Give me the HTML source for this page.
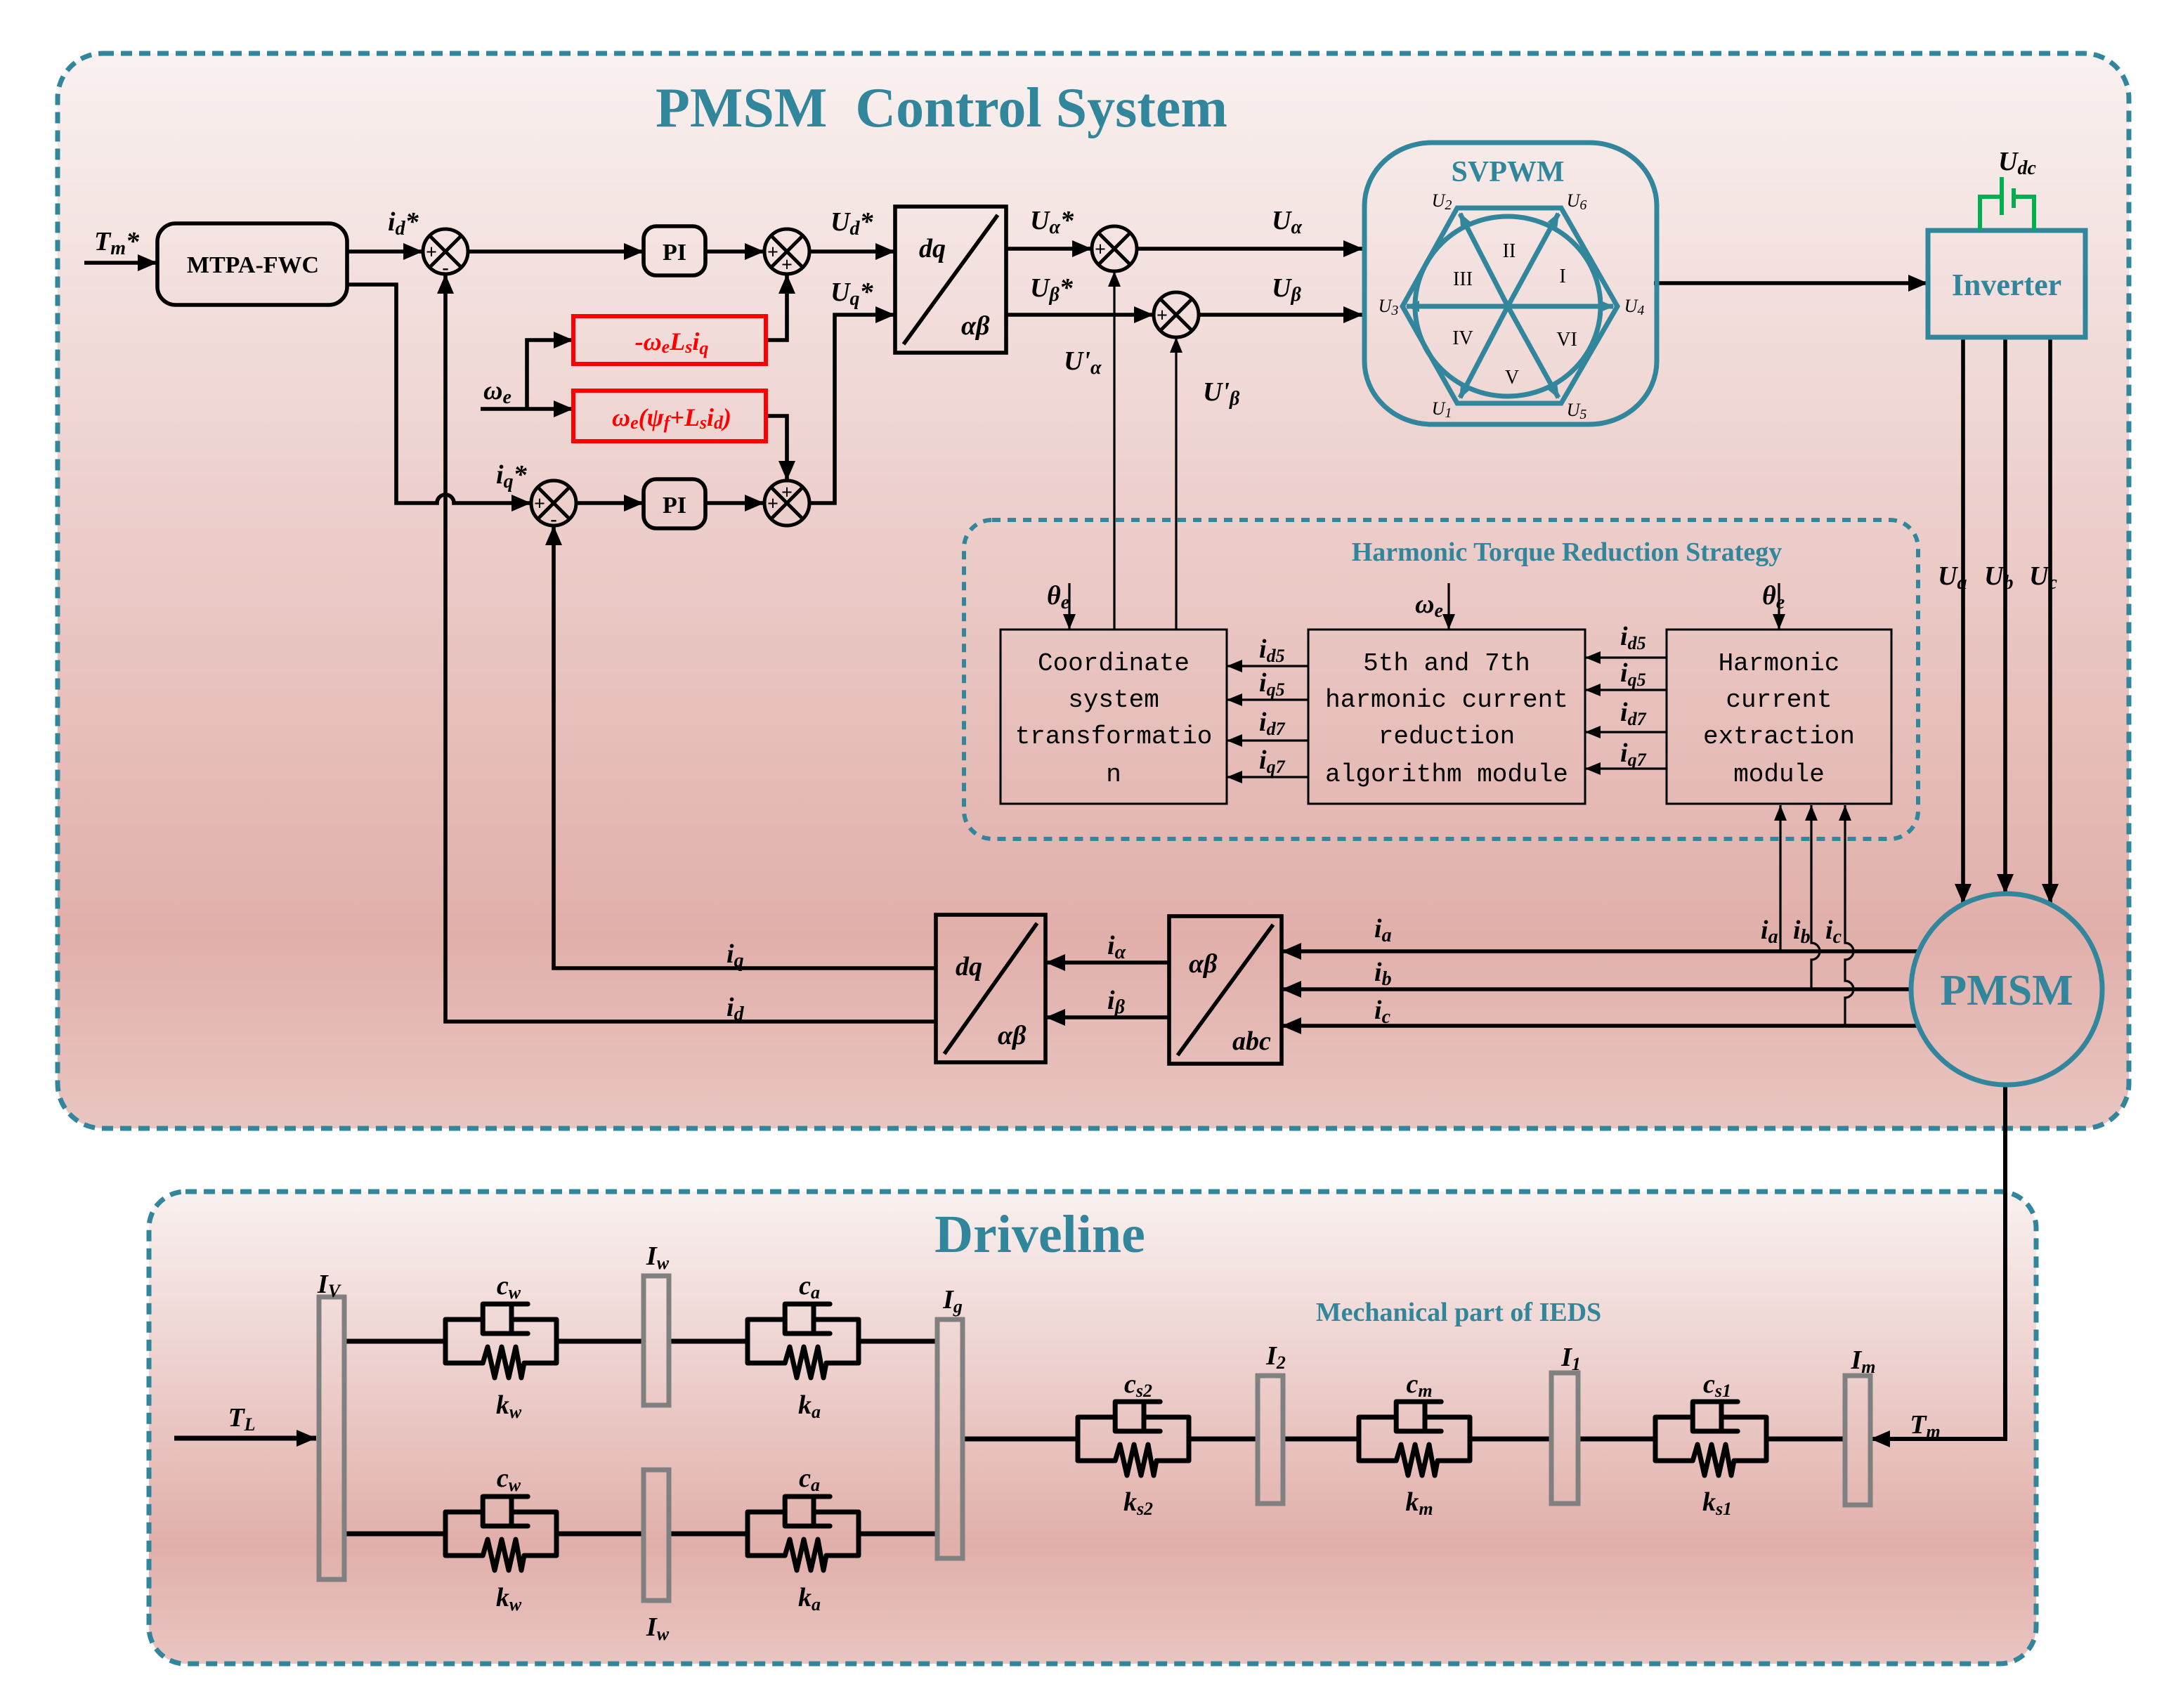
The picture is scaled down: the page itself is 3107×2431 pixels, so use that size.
<!DOCTYPE html>
<html><head><meta charset="utf-8"><style>
html,body{margin:0;padding:0;background:#fff;}
svg{display:block;}
text{font-family:"Liberation Serif",serif;}
.b{font-weight:bold;}
.v{font-weight:bold;font-style:italic;font-size:19px;}
.t{fill:#31869b;font-weight:bold;}
text.m{font-family:"Liberation Mono",monospace;font-size:18px;}
.sv{font-size:14px;}
.ul{font-style:italic;font-size:13px;}
</style></head><body>
<svg width="3107" height="2431" viewBox="0 0 1553.5 1215.5" xmlns="http://www.w3.org/2000/svg">
<defs>
<linearGradient id="g1" x1="0" y1="0" x2="0" y2="1">
<stop offset="0" stop-color="#f9f1f0"/><stop offset="0.82" stop-color="#e1afaa"/><stop offset="1" stop-color="#e9c5c1"/>
</linearGradient>
<linearGradient id="g2" x1="0" y1="0" x2="0" y2="1">
<stop offset="0" stop-color="#f9f1f0"/><stop offset="0.75" stop-color="#e1afaa"/><stop offset="1" stop-color="#e9c5c1"/>
</linearGradient>
<marker id="a" markerUnits="userSpaceOnUse" markerWidth="14" markerHeight="12" refX="14" refY="6" orient="auto"><path d="M0,0 L14,6 L0,12 z" fill="#000"/></marker>
<marker id="as" markerUnits="userSpaceOnUse" markerWidth="11" markerHeight="9" refX="11" refY="4.5" orient="auto"><path d="M0,0 L11,4.5 L0,9 z" fill="#000"/></marker>
<marker id="at" markerUnits="userSpaceOnUse" markerWidth="10" markerHeight="8" refX="9" refY="4" orient="auto"><path d="M0,0 L10,4 L0,8 z" fill="#31869b"/></marker>
<g id="sd" fill="none" stroke="#000" stroke-width="3.5" stroke-linecap="round" stroke-linejoin="round">
<path d="M26.6,-15.5 H0 V15.5 H26.6 L30,4 L35,26 L40,4 L45,26 L50,4 L54,26 L56,15.5 H79 V-15.5 H47"/>
<path d="M58.6,-26.5 H26.6 V-5.5 H58.6"/>
<path d="M47,-26.5 V-5.5"/>
</g>
<g id="sum" fill="none" stroke="#000" stroke-width="2.5">
<circle cx="0" cy="0" r="16"/><path d="M-11.3,-11.3 L11.3,11.3 M11.3,-11.3 L-11.3,11.3"/>
</g>
</defs>

<rect x="41" y="38" width="1474" height="765" rx="32" fill="url(#g1)" stroke="#31869b" stroke-width="3.5" stroke-dasharray="8 5"/>
<text x="670" y="90" text-anchor="middle" class="t" font-size="40" xml:space="preserve">PMSM  Control System</text>

<rect x="106" y="848" width="1343" height="336" rx="26" fill="url(#g2)" stroke="#31869b" stroke-width="3.5" stroke-dasharray="8 5"/>
<text x="740" y="891" text-anchor="middle" class="t" font-size="38">Driveline</text>
<text x="1038" y="940" text-anchor="middle" class="t" font-size="19">Mechanical part of IEDS</text>

<g stroke="#000" stroke-width="2.8" fill="none">
<line x1="60" y1="187" x2="112" y2="187" marker-end="url(#a)"/>
<rect x="112" y="159" width="135" height="58" rx="13"/>
<line x1="247" y1="179" x2="301" y2="179" marker-end="url(#a)"/>
<path d="M247,202.5 H282 V358 H311 a6,6 0 0 1 12,0 H378" marker-end="url(#a)"/>
<line x1="333" y1="179" x2="458" y2="179" marker-end="url(#a)"/>
<rect x="458" y="161" width="44" height="35" rx="9"/>
<line x1="502" y1="179" x2="544" y2="179" marker-end="url(#a)"/>
<line x1="576" y1="179" x2="637" y2="179" marker-end="url(#a)"/>
<rect x="637" y="147" width="79" height="104"/>
<line x1="643" y1="245" x2="710" y2="153"/>
<line x1="342" y1="291" x2="408" y2="291" marker-end="url(#a)"/>
<path d="M375,291 V242 H408" marker-end="url(#a)"/>
<path d="M545,242 H560 V195" marker-end="url(#a)"/>
<path d="M545,296 H560 V342" marker-end="url(#a)"/>
<line x1="410" y1="358" x2="458" y2="358" marker-end="url(#a)"/>
<rect x="458" y="341" width="44" height="35" rx="9"/>
<line x1="502" y1="358" x2="544" y2="358" marker-end="url(#a)"/>
<path d="M576,358 H594 V224 H637" marker-end="url(#a)"/>
<path d="M666,727 H317 V195" marker-end="url(#a)"/>
<path d="M666,689 H394 V374" marker-end="url(#a)"/>
<line x1="716" y1="177" x2="777" y2="177" marker-end="url(#a)"/>
<line x1="716" y1="224" x2="821" y2="224" marker-end="url(#a)"/>
<line x1="809" y1="177" x2="970" y2="177" marker-end="url(#a)"/>
<line x1="853" y1="224" x2="970" y2="224" marker-end="url(#a)"/>
<line x1="1177" y1="201.5" x2="1372" y2="201.5" marker-end="url(#a)"/>
<line x1="1397" y1="241" x2="1397" y2="643" marker-end="url(#a)"/>
<line x1="1427" y1="241" x2="1427" y2="636" marker-end="url(#a)"/>
<line x1="1459" y1="241" x2="1459" y2="643" marker-end="url(#a)"/>
<line x1="1366" y1="677" x2="912" y2="677" marker-end="url(#a)"/>
<line x1="1360" y1="704" x2="912" y2="704" marker-end="url(#a)"/>
<line x1="1366" y1="730" x2="912" y2="730" marker-end="url(#a)"/>
<rect x="832" y="652" width="80" height="105"/>
<line x1="838" y1="751" x2="906" y2="658"/>
<line x1="832" y1="685" x2="744" y2="685" marker-end="url(#a)"/>
<line x1="832" y1="724" x2="744" y2="724" marker-end="url(#a)"/>
<rect x="666" y="651" width="78" height="105"/>
<line x1="672" y1="750" x2="738" y2="657"/>
<path d="M1427,772 V1024 H1331" marker-end="url(#a)" stroke-width="3"/>
</g>

<g stroke="#000" stroke-width="1.6" fill="none">
<line x1="793" y1="448" x2="793" y2="193" marker-end="url(#as)"/>
<line x1="837" y1="448" x2="837" y2="240" marker-end="url(#as)"/>
<line x1="1267" y1="677" x2="1267" y2="573" marker-end="url(#as)"/>
<path d="M1289,704 V683 a6,6 0 0 0 0,-12 V573" marker-end="url(#as)"/>
<path d="M1313,730 V710 a6,6 0 0 0 0,-12 V683 a6,6 0 0 0 0,-12 V573" marker-end="url(#as)"/>
<line x1="761" y1="415" x2="761" y2="448" marker-end="url(#as)"/>
<line x1="1031" y1="415" x2="1031" y2="448" marker-end="url(#as)"/>
<line x1="1266" y1="415" x2="1266" y2="448" marker-end="url(#as)"/>
<line x1="931" y1="474" x2="873" y2="474" marker-end="url(#as)"/>
<line x1="931" y1="498" x2="873" y2="498" marker-end="url(#as)"/>
<line x1="931" y1="527" x2="873" y2="527" marker-end="url(#as)"/>
<line x1="931" y1="553" x2="873" y2="553" marker-end="url(#as)"/>
<line x1="1186" y1="468" x2="1128" y2="468" marker-end="url(#as)"/>
<line x1="1186" y1="491" x2="1128" y2="491" marker-end="url(#as)"/>
<line x1="1186" y1="521" x2="1128" y2="521" marker-end="url(#as)"/>
<line x1="1186" y1="547" x2="1128" y2="547" marker-end="url(#as)"/>
</g>

<use href="#sum" x="317" y="179"/>
<use href="#sum" x="560" y="179"/>
<use href="#sum" x="394" y="358"/>
<use href="#sum" x="560" y="358"/>
<use href="#sum" x="793" y="177"/>
<use href="#sum" x="837" y="224"/>
<g font-family="Liberation Sans" font-weight="bold" font-size="14" text-anchor="middle">
<text x="307" y="184">+</text><text x="317" y="195">-</text>
<text x="550" y="184">+</text><text x="560" y="193">+</text>
<text x="384" y="363">+</text><text x="394" y="374">-</text>
<text x="550" y="363">+</text><text x="560" y="355">+</text>
<text x="783" y="182">+</text><text x="827" y="229">+</text>
</g>

<rect x="408" y="225" width="137" height="34" fill="none" stroke="#ff0000" stroke-width="3"/>
<rect x="408" y="278" width="137" height="36" fill="none" stroke="#ff0000" stroke-width="3"/>
<text x="478" y="249" text-anchor="middle" fill="#ff0000" class="b" font-style="italic" font-size="18">-ω<tspan font-size="13" dy="2">e</tspan><tspan dy="-2">L</tspan><tspan font-size="13" dy="2">s</tspan><tspan dy="-2">i</tspan><tspan font-size="13" dy="3">q</tspan></text>
<text x="478" y="303" text-anchor="middle" fill="#ff0000" class="b" font-style="italic" font-size="18">ω<tspan font-size="13" dy="2">e</tspan><tspan dy="-2">(ψ</tspan><tspan font-size="13" dy="2">f</tspan><tspan dy="-2">+L</tspan><tspan font-size="13" dy="2">s</tspan><tspan dy="-2">i</tspan><tspan font-size="13" dy="2">d</tspan><tspan dy="-2">)</tspan></text>

<text x="180" y="194" text-anchor="middle" class="b" font-size="17">MTPA-FWC</text>
<text x="480" y="185" text-anchor="middle" class="b" font-size="17">PI</text>
<text x="480" y="365" text-anchor="middle" class="b" font-size="17">PI</text>
<g class="v" font-size="21">
<text x="654" y="183">dq</text><text x="684" y="238">αβ</text>
<text x="680" y="694">dq</text><text x="710" y="743">αβ</text>
<text x="846" y="692">αβ</text><text x="877" y="747">abc</text>
</g>

<g class="v">
<text x="67" y="178">T<tspan font-size="14" dy="3">m</tspan><tspan dy="-3">*</tspan></text>
<text x="276" y="164">i<tspan font-size="14" dy="3">d</tspan><tspan dy="-3">*</tspan></text>
<text x="353" y="344">i<tspan font-size="14" dy="3">q</tspan><tspan dy="-3">*</tspan></text>
<text x="344" y="284">ω<tspan font-size="14" dy="3">e</tspan></text>
<text x="591" y="164">U<tspan font-size="14" dy="3">d</tspan><tspan dy="-3">*</tspan></text>
<text x="591" y="214">U<tspan font-size="14" dy="3">q</tspan><tspan dy="-3">*</tspan></text>
<text x="733" y="163">U<tspan font-size="14" dy="3">α</tspan><tspan dy="-3">*</tspan></text>
<text x="733" y="211">U<tspan font-size="14" dy="3">β</tspan><tspan dy="-3">*</tspan></text>
<text x="905" y="163">U<tspan font-size="14" dy="3">α</tspan></text>
<text x="905" y="211">U<tspan font-size="14" dy="3">β</tspan></text>
<text x="757" y="263">U'<tspan font-size="14" dy="3">α</tspan></text>
<text x="856" y="285">U'<tspan font-size="14" dy="3">β</tspan></text>
<text x="1422" y="121">U<tspan font-size="14" dy="3">dc</tspan></text>
<text x="1379" y="416">U<tspan font-size="14" dy="3">a</tspan></text>
<text x="1412" y="416">U<tspan font-size="14" dy="3">b</tspan></text>
<text x="1444" y="416">U<tspan font-size="14" dy="3">c</tspan></text>
<text x="745" y="430">θ<tspan font-size="14" dy="3">e</tspan></text>
<text x="1007" y="436">ω<tspan font-size="14" dy="3">e</tspan></text>
<text x="1254" y="430">θ<tspan font-size="14" dy="3">e</tspan></text>
<text x="896" y="468">i<tspan font-size="13" dy="3">d5</tspan></text>
<text x="896" y="492">i<tspan font-size="13" dy="3">q5</tspan></text>
<text x="896" y="520">i<tspan font-size="13" dy="3">d7</tspan></text>
<text x="896" y="547">i<tspan font-size="13" dy="3">q7</tspan></text>
<text x="1153" y="459">i<tspan font-size="13" dy="3">d5</tspan></text>
<text x="1153" y="485">i<tspan font-size="13" dy="3">q5</tspan></text>
<text x="1153" y="513">i<tspan font-size="13" dy="3">d7</tspan></text>
<text x="1153" y="542">i<tspan font-size="13" dy="3">q7</tspan></text>
<text x="1253" y="668">i<tspan font-size="14" dy="3">a</tspan></text>
<text x="1276" y="668">i<tspan font-size="14" dy="3">b</tspan></text>
<text x="1299" y="668">i<tspan font-size="14" dy="3">c</tspan></text>
<text x="978" y="667">i<tspan font-size="14" dy="3">a</tspan></text>
<text x="978" y="698">i<tspan font-size="14" dy="3">b</tspan></text>
<text x="978" y="725">i<tspan font-size="14" dy="3">c</tspan></text>
<text x="788" y="679">i<tspan font-size="14" dy="3">α</tspan></text>
<text x="788" y="718">i<tspan font-size="14" dy="3">β</tspan></text>
<text x="517" y="685">i<tspan font-size="14" dy="3">q</tspan></text>
<text x="517" y="723">i<tspan font-size="14" dy="3">d</tspan></text>
</g>

<rect x="971" y="101.5" width="208" height="200.5" rx="48" ry="45" fill="none" stroke="#31869b" stroke-width="3.5"/>
<text x="1073" y="129" text-anchor="middle" class="t" font-size="21">SVPWM</text>
<g stroke="#31869b" stroke-width="3.5" fill="none">
<polygon points="1037,148 1111,148 1151,218 1111,287 1037,287 998,218"/>
<ellipse cx="1073" cy="218" rx="66" ry="64"/>
<line x1="1073" y1="218" x2="1001" y2="218" marker-end="url(#at)"/>
<line x1="1073" y1="218" x2="1148" y2="218" marker-end="url(#at)"/>
<line x1="1073" y1="218" x2="1039" y2="152" marker-end="url(#at)"/>
<line x1="1073" y1="218" x2="1109" y2="152" marker-end="url(#at)"/>
<line x1="1073" y1="218" x2="1039" y2="283" marker-end="url(#at)"/>
<line x1="1073" y1="218" x2="1109" y2="283" marker-end="url(#at)"/>
</g>
<g class="sv" text-anchor="middle">
<text x="1074" y="183">II</text><text x="1112" y="201">I</text><text x="1041" y="203">III</text>
<text x="1041" y="245">IV</text><text x="1115" y="246">VI</text><text x="1076" y="273">V</text>
</g>
<g class="ul" text-anchor="middle">
<text x="1026" y="147">U<tspan font-size="10" dy="2">2</tspan></text>
<text x="1122" y="147">U<tspan font-size="10" dy="2">6</tspan></text>
<text x="988" y="222">U<tspan font-size="10" dy="2">3</tspan></text>
<text x="1163" y="222">U<tspan font-size="10" dy="2">4</tspan></text>
<text x="1026" y="295">U<tspan font-size="10" dy="2">1</tspan></text>
<text x="1122" y="296">U<tspan font-size="10" dy="2">5</tspan></text>
</g>

<rect x="1372" y="164" width="112" height="76" fill="none" stroke="#31869b" stroke-width="3.5"/>
<text x="1428" y="210" text-anchor="middle" class="t" font-size="22">Inverter</text>
<g stroke="#00b050" stroke-width="3" fill="none">
<path d="M1409,164 V140 H1424.5"/><path d="M1433,140 H1447.5 V164"/>
<line x1="1424.5" y1="126" x2="1424.5" y2="153"/><line x1="1433" y1="134" x2="1433" y2="148"/>
</g>

<circle cx="1428" cy="704" r="68" fill="none" stroke="#31869b" stroke-width="3.5"/>
<text x="1428" y="715" text-anchor="middle" class="t" font-size="31">PMSM</text>

<rect x="686" y="370" width="679" height="227" rx="20" fill="none" stroke="#31869b" stroke-width="3" stroke-dasharray="6 5"/>
<text x="1115" y="399" text-anchor="middle" class="t" font-size="19">Harmonic Torque Reduction Strategy</text>
<g fill="none" stroke="#000" stroke-width="1.5">
<rect x="712" y="448" width="161" height="124"/>
<rect x="931" y="448" width="197" height="124"/>
<rect x="1186" y="448" width="160" height="124"/>
</g>
<g text-anchor="middle">
<text class="m" x="792.5" y="477">Coordinate</text><text class="m" x="792.5" y="503">system</text><text class="m" x="792.5" y="529">transformatio</text><text class="m" x="792.5" y="556">n</text>
<text class="m" x="1029.5" y="477">5th and 7th</text><text class="m" x="1029.5" y="503">harmonic current</text><text class="m" x="1029.5" y="529">reduction</text><text class="m" x="1029.5" y="556">algorithm module</text>
<text class="m" x="1266" y="477">Harmonic</text><text class="m" x="1266" y="503">current</text><text class="m" x="1266" y="529">extraction</text><text class="m" x="1266" y="556">module</text>
</g>

<g stroke="#000" stroke-width="3.5" fill="none">
<line x1="124" y1="1023.5" x2="225" y2="1023.5" marker-end="url(#a)"/>
<path d="M244,954.5 H317 M396,954.5 H458 M476,954.5 H532 M610,954.5 H667"/>
<path d="M244,1091.5 H317 M396,1091.5 H458 M476,1091.5 H532 M610,1091.5 H667"/>
<path d="M685,1024 H767 M845,1024 H895 M913,1024 H967 M1045,1024 H1104 M1123,1024 H1178 M1258,1024 H1313"/>
</g>
<use href="#sd" x="317" y="954.5"/><use href="#sd" x="532" y="954.5"/>
<use href="#sd" x="317" y="1091.5"/><use href="#sd" x="532" y="1091.5"/>
<use href="#sd" x="767" y="1024"/><use href="#sd" x="967" y="1024"/><use href="#sd" x="1178" y="1024"/>
<g fill="none" stroke="#808080" stroke-width="3.5">
<rect x="227" y="923" width="18" height="201"/>
<rect x="458" y="908" width="18" height="92"/>
<rect x="458" y="1046" width="18" height="93"/>
<rect x="667" y="939" width="18" height="170"/>
<rect x="895" y="979" width="18" height="91"/>
<rect x="1104" y="977" width="19" height="93"/>
<rect x="1313" y="979" width="18" height="92"/>
</g>
<g class="v" text-anchor="middle">
<text x="234" y="920">I<tspan font-size="13" dy="3">V</tspan></text>
<text x="468" y="900">I<tspan font-size="13" dy="3">w</tspan></text>
<text x="468" y="1164">I<tspan font-size="13" dy="3">w</tspan></text>
<text x="678" y="931">I<tspan font-size="13" dy="3">g</tspan></text>
<text x="908" y="971">I<tspan font-size="13" dy="3">2</tspan></text>
<text x="1118" y="972">I<tspan font-size="13" dy="3">1</tspan></text>
<text x="1326" y="974">I<tspan font-size="13" dy="3">m</tspan></text>
<text x="172" y="1015">T<tspan font-size="13" dy="3">L</tspan></text>
<text x="1370" y="1020">T<tspan font-size="13" dy="3">m</tspan></text>
<text x="362" y="921">c<tspan font-size="13" dy="3">w</tspan></text>
<text x="362" y="1006">k<tspan font-size="13" dy="3">w</tspan></text>
<text x="576" y="921">c<tspan font-size="13" dy="3">a</tspan></text>
<text x="576" y="1006">k<tspan font-size="13" dy="3">a</tspan></text>
<text x="362" y="1058">c<tspan font-size="13" dy="3">w</tspan></text>
<text x="362" y="1143">k<tspan font-size="13" dy="3">w</tspan></text>
<text x="576" y="1058">c<tspan font-size="13" dy="3">a</tspan></text>
<text x="576" y="1143">k<tspan font-size="13" dy="3">a</tspan></text>
<text x="810" y="991">c<tspan font-size="13" dy="3">s2</tspan></text>
<text x="810" y="1075">k<tspan font-size="13" dy="3">s2</tspan></text>
<text x="1010" y="991">c<tspan font-size="13" dy="3">m</tspan></text>
<text x="1010" y="1075">k<tspan font-size="13" dy="3">m</tspan></text>
<text x="1222" y="991">c<tspan font-size="13" dy="3">s1</tspan></text>
<text x="1222" y="1075">k<tspan font-size="13" dy="3">s1</tspan></text>
</g>
</svg>
</body></html>
